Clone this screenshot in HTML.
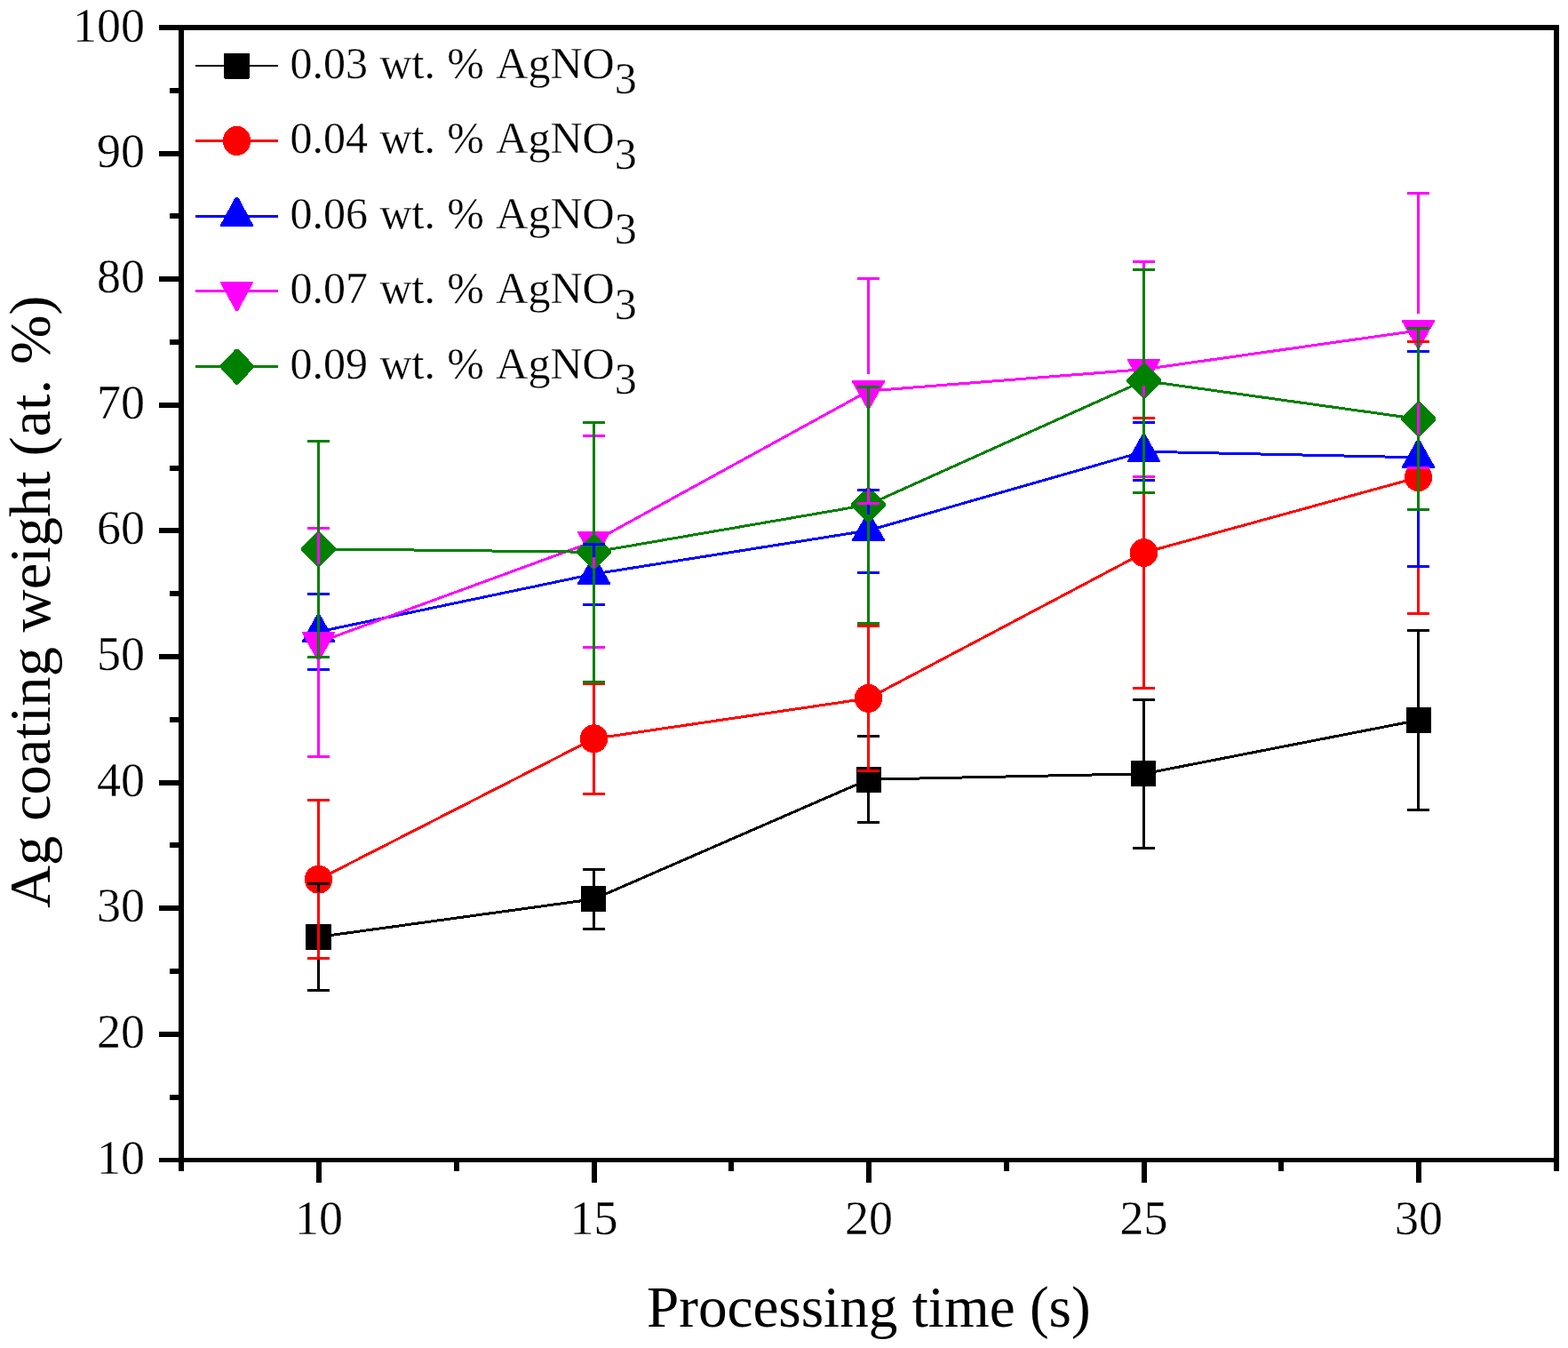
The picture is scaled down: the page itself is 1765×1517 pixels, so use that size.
<!DOCTYPE html>
<html lang="en"><head><meta charset="utf-8"><title>Ag coating weight vs processing time</title>
<style>
html,body{margin:0;padding:0;background:#fff;}
body{width:1765px;height:1517px;overflow:hidden;}
svg{display:block;}
text{font-family:"Liberation Serif","Times New Roman",serif;fill:#000;font-kerning:none;font-variant-ligatures:none;font-feature-settings:"kern" 0,"liga" 0;white-space:pre;}
.tk{font-size:54px;stroke:#fff;stroke-width:0.3px;}
.lg{font-size:50px;word-spacing:0.9px;stroke:#fff;stroke-width:0.3px;}
.ti{font-size:66px;}
</style></head><body>
<svg width="1765" height="1517" viewBox="0 0 1765 1517">
<rect x="0" y="0" width="1765" height="1517" fill="#fff"/>
<g shape-rendering="crispEdges">
<polyline points="358.5,1054.4 668.5,1011.8 977.5,877.2 1287.5,870.8 1596.5,810.5" fill="none" stroke="#000000" stroke-width="3" stroke-linejoin="round"/>
<rect x="344" y="1040" width="29" height="29" rx="1" fill="#000000"/>
<rect x="654" y="997" width="28" height="29" rx="1" fill="#000000"/>
<rect x="964" y="863" width="28" height="29" rx="1" fill="#000000"/>
<rect x="1273" y="856" width="28" height="29" rx="1" fill="#000000"/>
<rect x="1583" y="796" width="28" height="29" rx="1" fill="#000000"/>
<polyline points="358.5,989.7 668.5,831.3 977.5,785.9 1287.5,622 1596.5,537.2" fill="none" stroke="#ff0000" stroke-width="3" stroke-linejoin="round"/>
<ellipse cx="358.5" cy="989.7" rx="15.7" ry="16" fill="#ff0000"/>
<ellipse cx="668.5" cy="831.3" rx="15.7" ry="16" fill="#ff0000"/>
<ellipse cx="977.5" cy="785.9" rx="15.7" ry="16" fill="#ff0000"/>
<ellipse cx="1287.5" cy="622" rx="15.7" ry="16" fill="#ff0000"/>
<ellipse cx="1596.5" cy="537.2" rx="15.7" ry="16" fill="#ff0000"/>
<polyline points="358.5,711 668.5,646 977.5,597 1287.5,508.2 1596.5,514.8" fill="none" stroke="#0000ff" stroke-width="3" stroke-linejoin="round"/>
<polygon points="357,691 360,691 377,721.3 377,722.8 340,722.8 340,721.3" fill="#0000ff"/>
<polygon points="667,626 670,626 687,656.3 687,657.8 650,657.8 650,656.3" fill="#0000ff"/>
<polygon points="976,577 979,577 996,607.3 996,608.8 959,608.8 959,607.3" fill="#0000ff"/>
<polygon points="1286,488.2 1289,488.2 1306,518.5 1306,520 1269,520 1269,518.5" fill="#0000ff"/>
<polygon points="1595,494.8 1598,494.8 1615,525.1 1615,526.6 1578,526.6 1578,525.1" fill="#0000ff"/>
<polyline points="358.5,722.9 668.5,609.4 977.5,440 1287.5,415.6 1596.5,372" fill="none" stroke="#ff00ff" stroke-width="3" stroke-linejoin="round"/>
<polygon points="357,742.9 360,742.9 377,712.6 377,711.1 340,711.1 340,712.6" fill="#ff00ff"/>
<polygon points="667,629.4 670,629.4 687,599.1 687,597.6 650,597.6 650,599.1" fill="#ff00ff"/>
<polygon points="976,460 979,460 996,429.7 996,428.2 959,428.2 959,429.7" fill="#ff00ff"/>
<polygon points="1286,435.6 1289,435.6 1306,405.3 1306,403.8 1269,403.8 1269,405.3" fill="#ff00ff"/>
<polygon points="1595,392 1598,392 1615,361.7 1615,360.2 1578,360.2 1578,361.7" fill="#ff00ff"/>
<polyline points="358.5,617.8 668.5,621.3 977.5,568 1287.5,428.5 1596.5,471.5" fill="none" stroke="#008000" stroke-width="3" stroke-linejoin="round"/>
<polygon points="357,598.3 360,598.3 378,616.3 378,619.3 360,637.3 357,637.3 339,619.3 339,616.3" fill="#008000"/>
<polygon points="667,601.8 670,601.8 688,619.8 688,622.8 670,640.8 667,640.8 649,622.8 649,619.8" fill="#008000"/>
<polygon points="976,548.5 979,548.5 997,566.5 997,569.5 979,587.5 976,587.5 958,569.5 958,566.5" fill="#008000"/>
<polygon points="1286,409 1289,409 1307,427 1307,430 1289,448 1286,448 1268,430 1268,427" fill="#008000"/>
<polygon points="1595,452 1598,452 1616,470 1616,473 1598,491 1595,491 1577,473 1577,470" fill="#008000"/>
<path d="M346,994.4H371M346,1114.6H371M358.5,994.4V1039.9M358.5,1068.9V1114.6M656,978.5H681M656,1045.5H681M668.5,978.5V997.3M668.5,1026.3V1045.5M965,828.5H990M965,925.5H990M977.5,828.5V862.7M977.5,891.7V925.5M1275,787.4H1300M1275,954.6H1300M1287.5,787.4V856.3M1287.5,885.3V954.6M1584,709.4H1609M1584,911.4H1609M1596.5,709.4V796M1596.5,825V911.4" fill="none" stroke="#000000" stroke-width="3"/>
<path d="M346,900.4H371M346,1078.8H371M358.5,900.4V975.2M358.5,1004.2V1078.8M656,769.6H681M656,893.5H681M668.5,769.6V816.8M668.5,845.8V893.5M965,704.5H990M965,867.4H990M977.5,704.5V771.4M977.5,800.4V867.4M1275,470.1H1300M1275,774H1300M1287.5,470.1V607.5M1287.5,636.5V774M1584,384.5H1609M1584,690.1H1609M1596.5,384.5V522.7M1596.5,551.7V690.1" fill="none" stroke="#ff0000" stroke-width="3"/>
<path d="M346,668.6H371M346,753.6H371M358.5,668.6V692.1M358.5,729.1V753.6M656,612.5H681M656,680.5H681M668.5,612.5V627.5M668.5,664.5V680.5M965,551.6H990M965,644.5H990M977.5,551.6V579M977.5,616V644.5M1275,475.6H1300M1275,540.5H1300M1287.5,475.6V489M1287.5,526V540.5M1584,395H1609M1584,637H1609M1596.5,395V496.8M1596.5,533.8V637" fill="none" stroke="#0000ff" stroke-width="3"/>
<path d="M346,594.4H371M346,851.4H371M358.5,594.4V703.4M358.5,740.9V851.4M656,490.5H681M656,728.3H681M668.5,490.5V589.9M668.5,627.4V728.3M965,313.1H990M965,566.7H990M977.5,313.1V420.5M977.5,458V566.7M1275,294.5H1300M1275,536H1300M1287.5,294.5V396.1M1287.5,433.6V536M1584,217.4H1609M1584,526.5H1609M1596.5,217.4V352.5M1596.5,390V526.5" fill="none" stroke="#ff00ff" stroke-width="3"/>
<path d="M346,496.5H371M346,739.1H371M358.5,496.5V599.8M358.5,635.3V739.1M656,475.4H681M656,767.5H681M668.5,475.4V603.3M668.5,638.8V767.5M965,435H990M965,701.6H990M977.5,435V550M977.5,585.5V701.6M1275,303H1300M1275,554.4H1300M1287.5,303V410.5M1287.5,446V554.4M1584,369.4H1609M1584,573.4H1609M1596.5,369.4V453.5M1596.5,489V573.4" fill="none" stroke="#008000" stroke-width="3"/>
</g>
<g shape-rendering="crispEdges" fill="#000">
<rect x="179" y="28" width="1576" height="6"/>
<rect x="179" y="1303" width="1576" height="5.4"/>
<rect x="201" y="28" width="6" height="1290"/>
<rect x="1749" y="28" width="6" height="1290"/>
<rect x="191" y="1231.69" width="11" height="6"/>
<rect x="179" y="1160.89" width="23" height="6"/>
<rect x="191" y="1090.08" width="11" height="6"/>
<rect x="179" y="1019.28" width="23" height="6"/>
<rect x="191" y="948.47" width="11" height="6"/>
<rect x="179" y="877.67" width="23" height="6"/>
<rect x="191" y="806.86" width="11" height="6"/>
<rect x="179" y="736.06" width="23" height="6"/>
<rect x="191" y="665.25" width="11" height="6"/>
<rect x="179" y="594.44" width="23" height="6"/>
<rect x="191" y="523.64" width="11" height="6"/>
<rect x="179" y="452.83" width="23" height="6"/>
<rect x="191" y="382.03" width="11" height="6"/>
<rect x="179" y="311.22" width="23" height="6"/>
<rect x="191" y="240.42" width="11" height="6"/>
<rect x="179" y="169.61" width="23" height="6"/>
<rect x="191" y="98.81" width="11" height="6"/>
<rect x="356" y="1307" width="6" height="24"/>
<rect x="510.75" y="1307" width="6" height="11"/>
<rect x="665.5" y="1307" width="6" height="24"/>
<rect x="820.25" y="1307" width="6" height="11"/>
<rect x="975" y="1307" width="6" height="24"/>
<rect x="1129.75" y="1307" width="6" height="11"/>
<rect x="1284.5" y="1307" width="6" height="24"/>
<rect x="1439.25" y="1307" width="6" height="11"/>
<rect x="1594" y="1307" width="6" height="24"/>
</g>
<g class="tk">
<text x="163" y="1320.5" text-anchor="end">10</text>
<text x="163" y="1178.89" text-anchor="end">20</text>
<text x="163" y="1037.28" text-anchor="end">30</text>
<text x="163" y="895.67" text-anchor="end">40</text>
<text x="163" y="754.06" text-anchor="end">50</text>
<text x="163" y="612.44" text-anchor="end">60</text>
<text x="163" y="470.83" text-anchor="end">70</text>
<text x="163" y="329.22" text-anchor="end">80</text>
<text x="163" y="187.61" text-anchor="end">90</text>
<text x="163" y="47" text-anchor="end">100</text>
<text x="359" y="1389" text-anchor="middle">10</text>
<text x="668.5" y="1389" text-anchor="middle">15</text>
<text x="978" y="1389" text-anchor="middle">20</text>
<text x="1287.5" y="1389" text-anchor="middle">25</text>
<text x="1597" y="1389" text-anchor="middle">30</text>
</g>
<text class="ti" transform="translate(977.8,1493) scale(0.988,1)" text-anchor="middle">Processing time (s)</text>
<text class="ti" transform="translate(56,677.25) rotate(-90) scale(1.0088,1)" text-anchor="middle">Ag coating weight (at. %)</text>
<g shape-rendering="crispEdges">
<path d="M220,74H313" stroke="#000000" stroke-width="2" fill="none"/>
<rect x="252" y="59.7" width="29" height="29" rx="1.5" fill="#000000"/>
<path d="M220,158.6H313" stroke="#ff0000" stroke-width="3" fill="none"/>
<ellipse cx="266.5" cy="158.5" rx="15.6" ry="16.6" fill="#ff0000"/>
<path d="M220,243.2H313" stroke="#0000ff" stroke-width="3" fill="none"/>
<polygon points="265,221.7 268,221.7 285,253.2 285,254.7 248,254.7 248,253.2" fill="#0000ff"/>
<path d="M220,327.6H313" stroke="#ff00ff" stroke-width="3" fill="none"/>
<polygon points="265,349.6 268,349.6 285,318.3 285,316.8 248,316.8 248,318.3" fill="#ff00ff"/>
<path d="M220,412.4H313" stroke="#008000" stroke-width="3" fill="none"/>
<polygon points="265.3,392.6 268.3,392.6 285.6,410.9 285.6,413.9 268.3,432.6 265.3,432.6 248,413.9 248,410.9" fill="#008000"/>
</g>
<g class="lg">
<text x="326.5" y="87.7">0.03 wt. % AgNO<tspan dy="17.5">3</tspan></text>
<text x="326.5" y="172.1">0.04 wt. % AgNO<tspan dy="17.5">3</tspan></text>
<text x="326.5" y="256.7">0.06 wt. % AgNO<tspan dy="17.5">3</tspan></text>
<text x="326.5" y="341.1">0.07 wt. % AgNO<tspan dy="17.5">3</tspan></text>
<text x="326.5" y="425.9">0.09 wt. % AgNO<tspan dy="17.5">3</tspan></text>
</g>
</svg>
</body></html>
